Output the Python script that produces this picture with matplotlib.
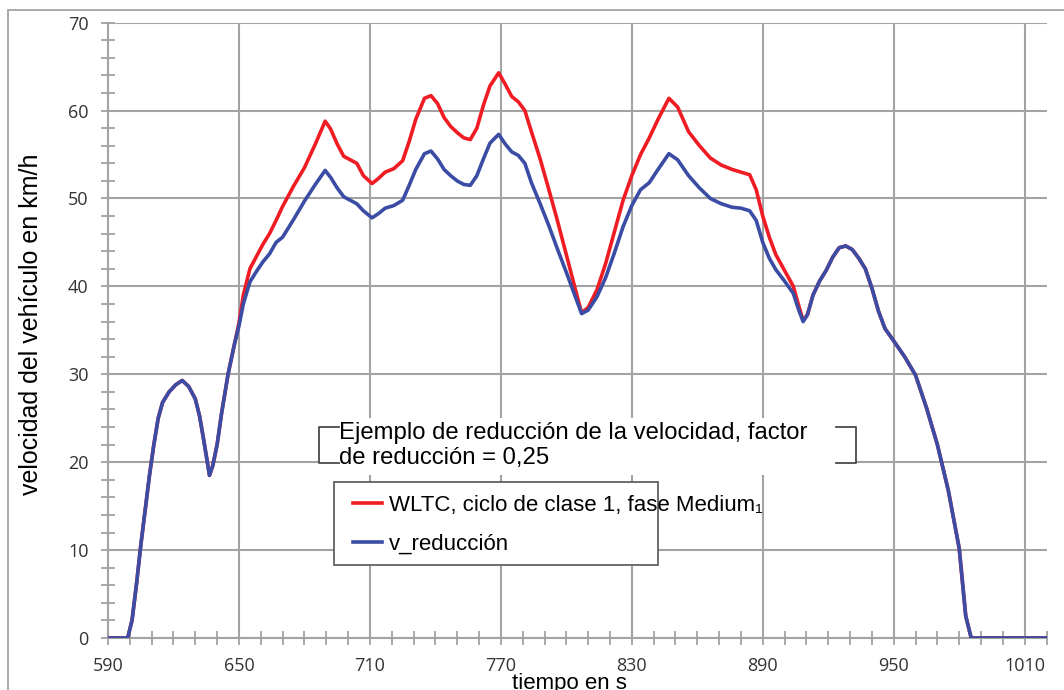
import matplotlib
matplotlib.use("Agg")
import matplotlib.pyplot as plt
from matplotlib.patches import Rectangle
from matplotlib.lines import Line2D

plt.rcParams['font.family'] = ['Liberation Sans', 'DejaVu Sans']

# tiempo en s
t = [590, 599, 601, 603, 605, 607, 609, 611, 613, 615,
     618, 621, 624, 627, 630, 632, 634, 636.5, 638, 640,
     642, 645, 648, 650, 652, 655, 658, 661, 664, 667,
     670, 675, 680, 685, 689.5, 692, 695, 698, 701, 704,
     707, 711, 714, 717, 721, 725, 728, 731, 735, 738,
     741, 744, 747, 750, 753, 756, 759, 762, 765, 769,
     772, 775, 778, 781, 784, 788, 792, 796, 800, 804,
     807, 810, 814, 818, 822, 826, 830, 834, 838, 842,
     847, 851, 856, 861, 866, 871, 876, 880, 884, 887,
     890, 893, 896, 900, 904, 906.5, 908.5, 910.5, 913, 916,
     919, 922, 925, 928, 931, 934, 937, 940, 943, 946,
     950, 955, 960, 965, 970, 975, 980, 983, 985.5, 1020]

# WLTC, ciclo de clase 1, fase Medium1
v_wltc = [0, 0, 2, 6, 10.5, 14.5, 18.5, 22, 25, 26.8,
          28, 28.8, 29.3, 28.6, 27.2, 25.2, 22.3, 18.5, 19.6, 22,
          25.5, 30, 33.5, 35.8, 39, 42, 43.4, 44.8, 46, 47.5,
          49.1, 51.4, 53.5, 56.2, 58.8, 57.9, 56.2, 54.8, 54.4, 54.0,
          52.6, 51.7, 52.3, 53.0, 53.4, 54.3, 56.5, 59.0, 61.4, 61.7,
          60.8, 59.2, 58.2, 57.5, 56.9, 56.7, 58.0, 60.6, 62.8, 64.3,
          63.0, 61.6, 61.0, 60.0, 57.6, 54.5, 51.0, 47.4, 43.6, 39.8,
          37.0, 37.6, 39.6, 42.6, 46.2, 49.8, 52.6, 55.0, 56.9, 59.0,
          61.4, 60.4, 57.6, 56.0, 54.6, 53.8, 53.3, 53.0, 52.7, 51.0,
          48.0, 45.6, 43.6, 41.8, 40.0, 37.8, 36.1, 36.8, 39.0, 40.6,
          41.8, 43.3, 44.4, 44.6, 44.2, 43.2, 42.0, 39.8, 37.2, 35.2,
          33.8, 32.0, 29.9, 26.2, 22.0, 16.8, 10.2, 2.5, 0, 0]

# v_reducción
v_red = [0, 0, 2, 6, 10.5, 14.5, 18.5, 22, 25, 26.8,
         28, 28.8, 29.3, 28.6, 27.2, 25.2, 22.3, 18.5, 19.6, 22,
         25.5, 30, 33.5, 35.5, 38, 40.5, 41.7, 42.8, 43.7, 45,
         45.6, 47.6, 49.7, 51.6, 53.2, 52.4, 51.2, 50.2, 49.8, 49.4,
         48.6, 47.8, 48.3, 48.9, 49.2, 49.8, 51.5, 53.3, 55.1, 55.4,
         54.5, 53.3, 52.6, 52.0, 51.6, 51.5, 52.6, 54.5, 56.3, 57.3,
         56.2, 55.3, 54.9, 54.0, 51.8, 49.4, 46.9, 44.2, 41.6, 38.9,
         36.9, 37.3, 38.8, 41.0, 43.8, 46.8, 49.2, 51.0, 51.8, 53.3,
         55.1, 54.4, 52.6, 51.2, 50.0, 49.4, 49.0, 48.9, 48.6, 47.5,
         45.0, 43.2, 41.9, 40.6, 39.2, 37.3, 36.0, 36.8, 39.0, 40.6,
         41.8, 43.3, 44.4, 44.6, 44.2, 43.2, 42.0, 39.8, 37.2, 35.2,
         33.8, 32.0, 29.9, 26.2, 22.0, 16.8, 10.2, 2.5, 0, 0]

x_major = list(range(590, 1011, 60))
x_minor = list(range(590, 1021, 10))
y_major = list(range(0, 71, 10))
y_minor = list(range(0, 71, 2))

W, H = 1064, 690
RED = '#f01c24'
BLUE = '#3a4ca4'
GRID = '#a3a3a3'


def fx(px):
    return px / W


def fy(py):
    return 1 - py / H


fig = plt.figure(figsize=(W / 100, H / 100), dpi=100)
ax = fig.add_axes([fx(108), fy(638), (1046.5 - 108) / W, (638 - 22.7) / H])

l1, = ax.plot(t, v_wltc, color=RED, lw=2.6, zorder=3, solid_joinstyle='round',
              label='WLTC, ciclo de clase 1, fase Medium\u2081')
l2, = ax.plot(t, v_red, color=BLUE, lw=2.6, zorder=4, solid_joinstyle='round',
              label='v_reducción')

ax.set_xlim(590, 1020)
ax.set_ylim(0, 70)
ax.set_xticks(x_major)
ax.set_xticks(x_minor, minor=True)
ax.set_yticks(y_major)
ax.set_yticks(y_minor, minor=True)
ax.grid(True, which='major', color=GRID, lw=1.5)
ax.set_axisbelow(True)
ax.tick_params(which='both', direction='inout', length=10, width=1.3,
               color=GRID, labelsize=13, labelcolor='#333333')
ax.tick_params(axis='y', pad=9)
ax.tick_params(axis='x', pad=8.5)
for lab in ax.get_xticklabels() + ax.get_yticklabels():
    lab.set_fontfamily('Open Sans')
for s in ['top', 'right']:
    ax.spines[s].set_visible(False)
for s in ['left', 'bottom']:
    ax.spines[s].set_color(GRID)
    ax.spines[s].set_linewidth(1.5)

# axis titles
fig.text(fx(31), fy(324), 'velocidad del vehículo en km/h', rotation=90,
         ha='center', va='center', fontsize=18)
fig.text(fx(569), fy(673), 'tiempo en s', ha='center', va='top', fontsize=16)

# outer frame
fig.add_artist(Rectangle((fx(8), -0.1), 2, fy(10) + 0.1, transform=fig.transFigure,
                         fill=False, edgecolor=GRID, lw=1.3, zorder=1))

# annotation with brackets
fig.add_artist(Rectangle((fx(319), fy(475)), (855 - 319) / W, (475 - 418) / H,
                         transform=fig.transFigure, facecolor='white',
                         edgecolor='none', zorder=2))
BR = '#4a4a4a'
for xs in ([338.5, 318.5, 318.5, 338.5], [836, 855.5, 855.5, 836]):
    fig.add_artist(Line2D([fx(x) for x in xs], [fy(427), fy(427), fy(463), fy(463)],
                          transform=fig.transFigure, color=BR, lw=1.3, zorder=3))
fig.text(fx(339), fy(438.5), 'Ejemplo de reducción de la velocidad, factor',
         fontsize=17.2, va='baseline', ha='left', zorder=4)
fig.text(fx(339), fy(464), 'de reducción = 0,25',
         fontsize=17.2, va='baseline', ha='left', zorder=4)

# legend box
fig.add_artist(Rectangle((fx(334), fy(565)), (658 - 334) / W, (565 - 482) / H,
                         transform=fig.transFigure, facecolor='white',
                         edgecolor='#555555', lw=1.2, zorder=2))
leg = fig.legend(handles=[l1, l2], loc='upper left',
                 bbox_to_anchor=(fx(353), fy(495)), frameon=False,
                 fontsize=16, borderpad=0, borderaxespad=0,
                 handlelength=1.3, handletextpad=0.3, labelspacing=0.8)
leg.set_zorder(5)

fig.savefig('out.png', dpi=100)
